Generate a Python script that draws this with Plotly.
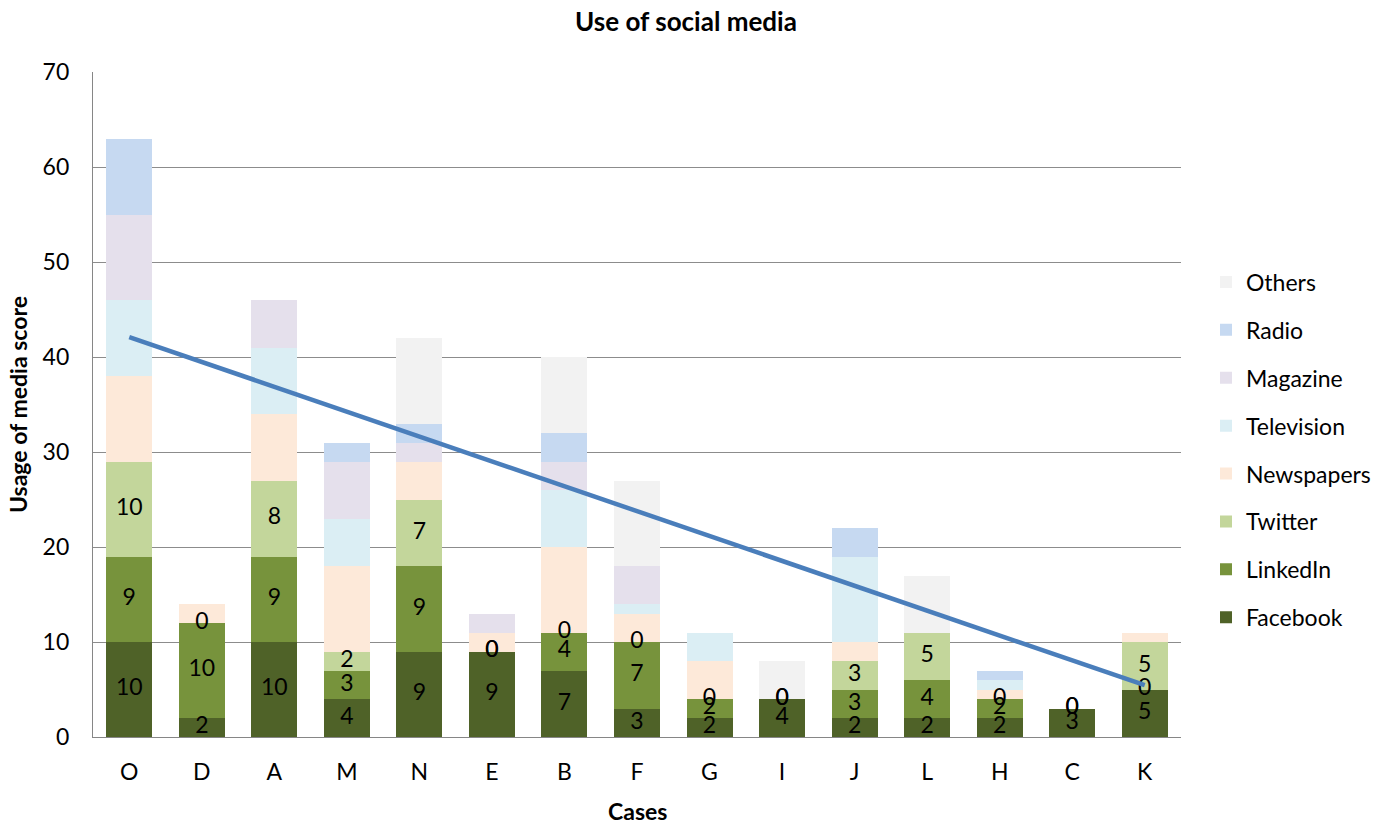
import plotly.graph_objects as go

cases = ["O", "D", "A", "M", "N", "E", "B", "F", "G", "I", "J", "L", "H", "C", "K"]
facebook   = [10, 2, 10, 4, 9, 9, 7, 3, 2, 4, 2, 2, 2, 3, 5]
linkedin   = [9, 10, 9, 3, 9, 0, 4, 7, 2, 0, 3, 4, 2, 0, 0]
twitter    = [10, 0, 8, 2, 7, 0, 0, 0, 0, 0, 3, 5, 0, 0, 5]
newspapers = [9, 2, 7, 9, 4, 2, 9, 3, 4, 0, 2, 0, 1, 0, 1]
television = [8, 0, 7, 5, 0, 0, 6, 1, 3, 0, 9, 0, 1, 0, 0]
magazine   = [9, 0, 5, 6, 2, 2, 3, 4, 0, 0, 0, 0, 0, 0, 0]
radio      = [8, 0, 0, 2, 2, 0, 3, 0, 0, 0, 3, 0, 1, 0, 0]
others     = [0, 0, 0, 0, 9, 0, 8, 9, 0, 4, 0, 6, 0, 0, 0]

trend_cases = ["O", "K"]
trend_values = [42.1, 5.45]

y_ticks = [0, 10, 20, 30, 40, 50, 60, 70]

series = [
    ("Facebook", facebook, "#4F6228"),
    ("LinkedIn", linkedin, "#77933C"),
    ("Twitter", twitter, "#C3D69B"),
    ("Newspapers", newspapers, "#FDE9D9"),
    ("Television", television, "#DBEEF4"),
    ("Magazine", magazine, "#E5E0EC"),
    ("Radio", radio, "#C6D9F1"),
    ("Others", others, "#F2F2F2"),
]
labelled = {"Facebook", "LinkedIn", "Twitter"}

FONT = "Lato"
FS = 23

fig = go.Figure()
base = [0] * len(cases)
label_traces = []
n = len(series)
for i, (name, vals, color) in enumerate(series):
    fig.add_trace(go.Bar(
        x=cases, y=vals, name=name, marker=dict(color=color, line=dict(width=0)),
        legendgroup=name, legendrank=n - i,
    ))
    if name in labelled:
        mids = [b + v / 2 for b, v in zip(base, vals)]
        label_traces.append(go.Scatter(
            x=cases, y=mids, mode="text", text=[str(v) for v in vals],
            textposition="middle center",
            textfont=dict(family=FONT, size=FS, color="black"),
            showlegend=False, hoverinfo="skip",
        ))
    base = [b + v for b, v in zip(base, vals)]

for t in label_traces:
    fig.add_trace(t)

fig.add_trace(go.Scatter(
    x=trend_cases, y=trend_values, mode="lines",
    line=dict(color="#4A7EBB", width=4.5), showlegend=False, hoverinfo="skip",
))

W, H = 1395, 823
L, R, T, B = 93, 1181, 72, 737

fig.update_layout(
    width=W, height=H,
    barmode="stack", bargap=0.366,
    paper_bgcolor="white", plot_bgcolor="white",
    margin=dict(l=L, r=W - R, t=T, b=H - B, pad=0),
    font=dict(family=FONT, size=FS, color="black"),
    title=dict(text="<b>Use of social media</b>", x=686 / W, xanchor="center",
               y=1 - 22 / H, yanchor="middle", yref="container",
               font=dict(family=FONT, size=FS + 3, color="black")),
    legend=dict(x=(1206 - L) / (R - L), xanchor="left", y=(B - 450) / (B - T), yanchor="middle",
                traceorder="grouped", tracegroupgap=15,
                font=dict(family=FONT, size=FS, color="black"),
                itemwidth=30),
    showlegend=True,
)

fig.update_xaxes(
    range=[-0.5, len(cases) - 0.5],
    showline=True, linecolor="#868686", linewidth=1.3,
    ticks="outside", ticklen=14, tickcolor="rgba(0,0,0,0)",
    tickfont=dict(family=FONT, size=FS, color="black"),
    showgrid=False, categoryorder="array", categoryarray=cases,
)
fig.update_yaxes(
    range=[0, 70], tickvals=y_ticks, showline=True, linecolor="#868686", linewidth=1.3,
    showgrid=True, gridcolor="#8C8C8C", gridwidth=1.3,
    ticks="outside", ticklen=18, tickcolor="rgba(0,0,0,0)",
    tickfont=dict(family=FONT, size=FS, color="black"),
    zeroline=False,
)

fig.add_annotation(text="<b>Cases</b>", x=(637 - L) / (R - L), xref="paper", xanchor="center",
                   y=-(811 - B) / (B - T), yref="paper", yanchor="middle", showarrow=False,
                   font=dict(family=FONT, size=FS, color="black"))
fig.add_annotation(text="<b>Usage of media score</b>", textangle=-90,
                   x=-(L - 18) / (R - L), xref="paper", xanchor="center",
                   y=(B - 405) / (B - T), yref="paper", yanchor="middle", showarrow=False,
                   font=dict(family=FONT, size=FS, color="black"))

fig.write_html("out.html")
